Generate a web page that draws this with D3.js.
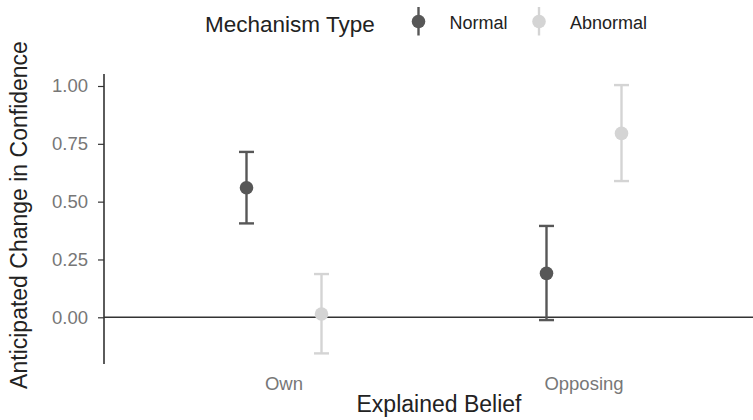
<!DOCTYPE html>
<html>
<head>
<meta charset="utf-8">
<script src="https://cdn.jsdelivr.net/npm/d3@7"></script>
<style>
  body { margin: 0; background: #fff; }
  text { font-family: "Liberation Sans", Arial, sans-serif; }
</style>
</head>
<body>
<div id="chart"></div>
<script>
var beliefs = ['Own', 'Opposing'];
var mechanisms = ['Normal', 'Abnormal'];
var yTicks = [0, 0.25, 0.5, 0.75, 1];

// mean, lower, upper per belief, one array per mechanism
var normalMean  = [0.560, 0.190];
var normalLow   = [0.406, -0.012];
var normalHigh  = [0.715, 0.395];
var abnormalMean = [0.014, 0.795];
var abnormalLow  = [-0.156, 0.589];
var abnormalHigh = [0.187, 1.004];

var colours = {Normal: '#575757', Abnormal: '#d4d4d4'};

var rows = [];
beliefs.forEach(function(b, i) {
  rows.push({belief: b, mech: 'Normal', m: normalMean[i], lo: normalLow[i], hi: normalHigh[i]});
  rows.push({belief: b, mech: 'Abnormal', m: abnormalMean[i], lo: abnormalLow[i], hi: abnormalHigh[i]});
});

var W = 753, H = 420;
var svg = d3.select('#chart').append('svg')
  .attr('width', W)
  .attr('height', H);

var x = d3.scalePoint().domain(beliefs).range([104, 764]).padding(0.6);
var dodge = d3.scalePoint().domain(mechanisms).range([-37.5, 37.5]);
var y = d3.scaleLinear().domain([0, 1]).range([317.3, 86]);

// y axis
var yAxis = svg.append('g')
  .attr('transform', 'translate(104,0)')
  .call(d3.axisLeft(y).tickValues(yTicks).tickFormat(d3.format('.2f')).tickSize(6).tickPadding(10));
yAxis.select('.domain').remove();
yAxis.selectAll('line').attr('stroke', '#333').attr('stroke-width', 1.2);
yAxis.selectAll('text').attr('fill', '#777').style('font-size', '18.5px');

svg.append('line')
  .attr('x1', 104).attr('x2', 104)
  .attr('y1', 74).attr('y2', 364)
  .attr('stroke', '#333').attr('stroke-width', 1.6);

// zero line
svg.append('line')
  .attr('x1', 104).attr('x2', W)
  .attr('y1', y(0)).attr('y2', y(0))
  .attr('stroke', '#333').attr('stroke-width', 1.6);

// x labels
svg.selectAll('.xlab').data(beliefs).enter().append('text')
  .attr('x', function(d) { return x(d); })
  .attr('y', 390)
  .attr('text-anchor', 'middle')
  .attr('fill', '#777')
  .style('font-size', '18.5px')
  .text(function(d) { return d; });

svg.append('text')
  .attr('x', 439).attr('y', 411.5)
  .attr('text-anchor', 'middle')
  .attr('fill', '#222')
  .style('font-size', '23px')
  .text('Explained Belief');

svg.append('text')
  .attr('transform', 'translate(27,215) rotate(-90)')
  .attr('text-anchor', 'middle')
  .attr('fill', '#222')
  .style('font-size', '23px')
  .text('Anticipated Change in Confidence');

// error bars and points
var g = svg.selectAll('.pr').data(rows).enter().append('g')
  .attr('transform', function(d) { return 'translate(' + (x(d.belief) + dodge(d.mech)) + ',0)'; });

g.append('line')
  .attr('y1', function(d) { return y(d.lo); })
  .attr('y2', function(d) { return y(d.hi); })
  .attr('stroke', function(d) { return colours[d.mech]; })
  .attr('stroke-width', 2.4);
g.append('line')
  .attr('x1', -7.5).attr('x2', 7.5)
  .attr('y1', function(d) { return y(d.lo); })
  .attr('y2', function(d) { return y(d.lo); })
  .attr('stroke', function(d) { return colours[d.mech]; })
  .attr('stroke-width', 2.4);
g.append('line')
  .attr('x1', -7.5).attr('x2', 7.5)
  .attr('y1', function(d) { return y(d.hi); })
  .attr('y2', function(d) { return y(d.hi); })
  .attr('stroke', function(d) { return colours[d.mech]; })
  .attr('stroke-width', 2.4);
g.append('circle')
  .attr('cy', function(d) { return y(d.m); })
  .attr('r', 6.8)
  .attr('fill', function(d) { return colours[d.mech]; });

// legend
svg.append('text')
  .attr('x', 205).attr('y', 31.5)
  .attr('fill', '#222')
  .style('font-size', '22.5px')
  .text('Mechanism Type');

var legX = {Normal: 418.5, Abnormal: 539};
var lg = svg.selectAll('.leg').data(mechanisms).enter().append('g')
  .attr('transform', function(d) { return 'translate(' + legX[d] + ',21.5)'; });
lg.append('line')
  .attr('y1', -14.5).attr('y2', 14)
  .attr('stroke', function(d) { return colours[d]; })
  .attr('stroke-width', 2.4);
lg.append('circle')
  .attr('r', 6.8)
  .attr('fill', function(d) { return colours[d]; });
lg.append('text')
  .attr('x', 31).attr('y', 7.5)
  .attr('fill', '#222')
  .style('font-size', '18px')
  .text(function(d) { return d; });
</script>
</body>
</html>
